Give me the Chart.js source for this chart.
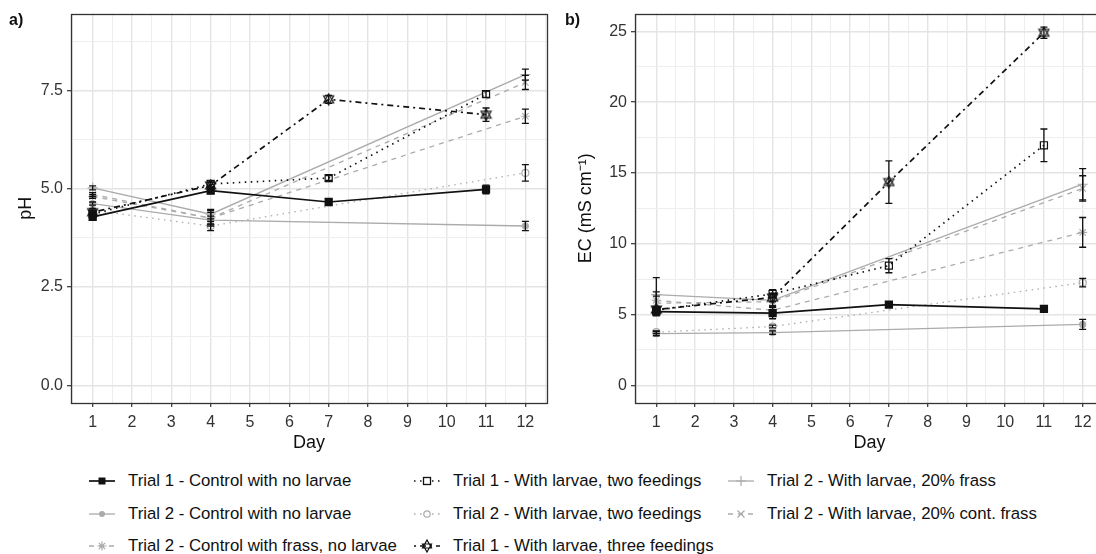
<!DOCTYPE html>
<html><head><meta charset="utf-8">
<script src="https://cdn.jsdelivr.net/npm/chart.js@4/dist/chart.umd.min.js"></script>
<style>
html,body{margin:0;padding:0;background:#fff;overflow:hidden;width:1096px;height:554px;position:relative;}
#wrapA{position:absolute;left:0;top:0;width:560px;height:460px;}
#wrapB{position:absolute;left:560px;top:0;width:560px;height:460px;}
.panel{position:absolute;font:bold 16px "Liberation Sans",Arial,sans-serif;color:#111;}
.lgtext{position:absolute;font:16.8px "Liberation Sans",Arial,sans-serif;color:#111;white-space:nowrap;line-height:18px;}
.lgkey{position:absolute;}
</style></head>
<body>
<div id="wrapA"><canvas id="cA" width="560" height="460"></canvas></div>
<div id="wrapB"><canvas id="cB" width="560" height="460"></canvas></div>
<div class="panel" style="left:9px;top:11px;">a)</div>
<div class="panel" style="left:565px;top:11px;">b)</div>
<div id="legend"></div>
<script>
// ---------- DATA ----------
const days1 = [1, 4, 7, 11];
const days2 = [1, 4, 12];
const seriesNames = [
  'Trial 1 - Control with no larvae',
  'Trial 2 - Control with no larvae',
  'Trial 2 - Control with frass, no larvae',
  'Trial 1 - With larvae, two feedings',
  'Trial 2 - With larvae, two feedings',
  'Trial 1 - With larvae, three feedings',
  'Trial 2 - With larvae, 20% frass',
  'Trial 2 - With larvae, 20% cont. frass'
];
const dayTicks = [1,2,3,4,5,6,7,8,9,10,11,12];
const phTicks = [0, 2.5, 5, 7.5];
const ecTicks = [0, 5, 10, 15, 20, 25];

// pH
const phT1Control      = [4.28, 4.95, 4.66, 4.98];
const phT1ControlErr   = [0.05, 0.05, 0.05, 0.11];
const phT2Control      = [4.62, 4.20, 4.05];
const phT2ControlErr   = [0.04, 0.10, 0.12];
const phT2Frass        = [4.80, 4.25, 6.84];
const phT2FrassErr     = [0.05, 0.15, 0.18];
const phT1Two          = [4.35, 5.12, 5.27, 7.40];
const phT1TwoErr       = [0.05, 0.08, 0.06, 0.08];
const phT2Two          = [4.45, 4.05, 5.40];
const phT2TwoErr       = [0.04, 0.12, 0.21];
const phT1Three        = [4.40, 5.08, 7.27, 6.88];
const phT1ThreeErr     = [0.05, 0.08, 0.10, 0.17];
const phT2Frass20      = [5.02, 4.35, 7.90];
const phT2Frass20Err   = [0.05, 0.12, 0.14];
const phT2Cont20       = [4.85, 4.25, 7.70];
const phT2Cont20Err    = [0.05, 0.20, 0.18];

// EC
const ecT1Control      = [5.20, 5.10, 5.70, 5.40];
const ecT1ControlErr   = [0.30, 0.40, 0.10, 0.20];
const ecT2Control      = [3.65, 3.72, 4.30];
const ecT2ControlErr   = [0.15, 0.12, 0.35];
const ecT2Frass        = [6.00, 5.30, 10.80];
const ecT2FrassErr     = [0.60, 0.30, 1.05];
const ecT1Two          = [5.30, 6.45, 8.45, 16.95];
const ecT1TwoErr       = [0.20, 0.30, 0.50, 1.15];
const ecT2Two          = [3.75, 4.15, 7.25];
const ecT2TwoErr       = [0.10, 0.10, 0.30];
const ecT1Three        = [5.35, 6.20, 14.35, 24.90];
const ecT1ThreeErr     = [0.20, 0.30, 1.50, 0.40];
const ecT2Frass20      = [6.40, 6.00, 14.20];
const ecT2Frass20Err   = [1.20, 0.40, 1.10];
const ecT2Cont20       = [5.80, 5.90, 13.90];
const ecT2Cont20Err    = [0.50, 0.40, 0.90];

// ---------- STYLES ----------
const GRAY = '#ABABAB', BLACK = '#111111';
function hexCanvas(){
  const c = document.createElement('canvas'); c.width = 13; c.height = 13;
  const g = c.getContext('2d'); g.strokeStyle = BLACK; g.lineWidth = 1.2;
  g.beginPath(); g.moveTo(6.5,1); g.lineTo(11.5,10); g.lineTo(1.5,10); g.closePath(); g.stroke();
  g.beginPath(); g.moveTo(6.5,12); g.lineTo(11.5,3); g.lineTo(1.5,3); g.closePath(); g.stroke();
  return c;
}
const HEX = hexCanvas();
const styles = [
  {color:BLACK, dash:[], width:1.7, point:'rect', r:5, fill:BLACK, pb:BLACK, order:0, key:'sqf'},
  {color:GRAY, dash:[], width:1.3, point:'circle', r:3, fill:GRAY, pb:GRAY, order:1, key:'cif'},
  {color:GRAY, dash:[5,5], width:1.3, point:'star', r:4.5, fill:'rgba(0,0,0,0)', pb:GRAY, order:1, key:'ast'},
  {color:BLACK, dash:[1.5,4.5], width:1.7, point:'rect', r:5, fill:'rgba(0,0,0,0)', pb:BLACK, order:0, key:'sqo'},
  {color:GRAY, dash:[1.5,4.5], width:1.3, point:'circle', r:3.5, fill:'rgba(0,0,0,0)', pb:GRAY, order:1, key:'cio'},
  {color:BLACK, dash:[2,4,6,4], width:1.7, point:HEX, r:6, fill:'rgba(0,0,0,0)', pb:BLACK, order:0, key:'hex'},
  {color:GRAY, dash:[], width:1.3, point:'cross', r:5, fill:'rgba(0,0,0,0)', pb:GRAY, order:1, key:'plus'},
  {color:GRAY, dash:[5,5], width:1.3, point:'crossRot', r:4.5, fill:'rgba(0,0,0,0)', pb:GRAY, order:1, key:'x'}
];

function ds(i, days, vals, errs){
  const s = styles[i];
  return {
    label: seriesNames[i],
    data: days.map((d,k)=>({x:d, y:vals[k]})),
    errors: errs,
    borderColor: s.color, borderWidth: s.width, borderDash: s.dash,
    pointStyle: s.point, pointRadius: s.r, pointBackgroundColor: s.fill,
    pointBorderColor: s.pb, pointBorderWidth: 1.2, tension: 0, fill: false,
    order: s.order
  };
}

const phData = [
  ds(0, days1, phT1Control, phT1ControlErr),
  ds(1, days2, phT2Control, phT2ControlErr),
  ds(2, days2, phT2Frass, phT2FrassErr),
  ds(3, days1, phT1Two, phT1TwoErr),
  ds(4, days2, phT2Two, phT2TwoErr),
  ds(5, days1, phT1Three, phT1ThreeErr),
  ds(6, days2, phT2Frass20, phT2Frass20Err),
  ds(7, days2, phT2Cont20, phT2Cont20Err)
];
const ecData = [
  ds(0, days1, ecT1Control, ecT1ControlErr),
  ds(1, days2, ecT2Control, ecT2ControlErr),
  ds(2, days2, ecT2Frass, ecT2FrassErr),
  ds(3, days1, ecT1Two, ecT1TwoErr),
  ds(4, days2, ecT2Two, ecT2TwoErr),
  ds(5, days1, ecT1Three, ecT1ThreeErr),
  ds(6, days2, ecT2Frass20, ecT2Frass20Err),
  ds(7, days2, ecT2Cont20, ecT2Cont20Err)
];

// ---------- PLUGINS ----------
const errPlugin = {
  id:'errbars',
  afterDatasetsDraw(chart){
    const {ctx, scales:{x, y}} = chart;
    ctx.save();
    ctx.strokeStyle = '#111'; ctx.lineWidth = 1.3; ctx.setLineDash([]);
    chart.data.datasets.forEach(d => {
      d.data.forEach((p,i) => {
        const e = d.errors[i];
        const px = x.getPixelForValue(p.x);
        const y1 = y.getPixelForValue(p.y - e), y2 = y.getPixelForValue(p.y + e);
        ctx.beginPath();
        ctx.moveTo(px, y1); ctx.lineTo(px, y2);
        ctx.moveTo(px-3.5, y1); ctx.lineTo(px+3.5, y1);
        ctx.moveTo(px-3.5, y2); ctx.lineTo(px+3.5, y2);
        ctx.stroke();
      });
    });
    ctx.restore();
  },
  afterDraw(chart){
    const a = chart.chartArea, ctx = chart.ctx;
    ctx.save(); ctx.strokeStyle = '#333'; ctx.lineWidth = 1.3;
    ctx.strokeRect(Math.round(a.left)+0.5, Math.round(a.top)+0.5, Math.round(a.right-a.left), Math.round(a.bottom-a.top));
    ctx.restore();
  }
};

Chart.defaults.font.family = '"Liberation Sans", Arial, sans-serif';

function halfSteps(lo, hi, step){ const out=[]; for(let v=lo; v<=hi+1e-9; v+=step) out.push(+v.toFixed(4)); return out; }
function isMajor(v, list){ return list.some(t => Math.abs(t - v) < 1e-6); }

function makeOptions(cfg){
  const xAll = halfSteps(0.5, 12.5, 0.5);
  const yAll = halfSteps(0, cfg.yMaxGrid, cfg.yStep/2);
  return {
    responsive:false, animation:false, devicePixelRatio:1,
    layout:{padding:{left:0, top:12, right:cfg.padRight, bottom:0}},
    plugins:{legend:{display:false}, tooltip:{enabled:false}},
    scales:{
      x:{
        type:'linear', min:0.45, max:12.55,
        afterBuildTicks: s => { s.ticks = xAll.map(v => ({value:v})); },
        afterFit: s => { s.height = 57; },
        ticks:{autoSkip:false, maxRotation:0, minRotation:0, padding:6, color:'#333', font:{size:16},
               callback: v => isMajor(v, dayTicks) ? String(v) : ''},
        grid:{
          color: c => isMajor(c.tick.value, dayTicks) ? '#E4E4E4' : '#EEEEEE',
          lineWidth: c => isMajor(c.tick.value, dayTicks) ? 1.4 : 1,
          tickLength:4, tickWidth:1.2,
          tickColor: c => isMajor(c.tick.value, dayTicks) ? '#333' : 'rgba(0,0,0,0)'
        },
        border:{display:false},
        title:{display:true, text:'Day', font:{size:18}, color:'#111', padding:{top:0, bottom:6}}
      },
      y:{
        type:'linear', min:cfg.yMin, max:cfg.yMax,
        afterBuildTicks: s => { s.ticks = yAll.map(v => ({value:v})); },
        afterFit: s => { s.width = cfg.yWidth; },
        ticks:{autoSkip:false, padding:4, color:'#333', font:{size:16},
               callback: v => isMajor(v, cfg.majors) ? cfg.fmt(v) : ''},
        grid:{
          color: c => isMajor(c.tick.value, cfg.majors) ? '#E4E4E4' : '#EEEEEE',
          lineWidth: c => isMajor(c.tick.value, cfg.majors) ? 1.4 : 1,
          tickLength:4, tickWidth:1.2,
          tickColor: c => isMajor(c.tick.value, cfg.majors) ? '#333' : 'rgba(0,0,0,0)'
        },
        border:{display:false},
        title:{display:true, text:cfg.title, font:{size:18}, color:'#111', padding:{top:cfg.titlePad, bottom:0}}
      }
    }
  };
}

new Chart(document.getElementById('cA'), {
  type:'line', data:{datasets:phData}, plugins:[errPlugin],
  options: makeOptions({padRight:13, yMin:-0.45, yMax:9.45, yMaxGrid:8.75, yStep:2.5, majors:phTicks,
                        fmt:v=>v.toFixed(1), yWidth:71, title:'pH', titlePad:15})
});
new Chart(document.getElementById('cB'), {
  type:'line', data:{datasets:ecData}, plugins:[errPlugin],
  options: makeOptions({padRight:16, yMin:-1.25, yMax:26.25, yMaxGrid:25, yStep:5, majors:ecTicks,
                        fmt:v=>String(v), yWidth:75, title:'EC (mS cm\u207B\u00B9)', titlePad:15})
});

// ---------- LEGEND ----------
function keySvg(s){
  const dash = s.dash.length ? `stroke-dasharray="${s.dash.join(',')}"` : '';
  let m = '';
  const c = s.pb;
  switch(s.key){
    case 'sqf': m = `<rect x="9.5" y="4.5" width="7" height="7" fill="${c}"/>`; break;
    case 'cif': m = `<circle cx="13" cy="8" r="3" fill="${c}"/>`; break;
    case 'ast': m = `<path d="M13 3.5V12.5M8.5 8H17.5M9.8 4.8L16.2 11.2M16.2 4.8L9.8 11.2" stroke="${c}" stroke-width="1.2"/>`; break;
    case 'sqo': m = `<rect x="9.5" y="4.5" width="7" height="7" fill="#fff" stroke="${c}" stroke-width="1.3"/>`; break;
    case 'cio': m = `<circle cx="13" cy="8" r="3.2" fill="#fff" stroke="${c}" stroke-width="1.2"/>`; break;
    case 'hex': m = `<path d="M13 2L17.5 10H8.5ZM13 14L17.5 6H8.5Z" fill="#fff" stroke="${c}" stroke-width="1.2"/>`; break;
    case 'plus': m = `<path d="M13 3V13M8 8H18" stroke="${c}" stroke-width="1.2"/>`; break;
    case 'x': m = `<path d="M9.5 4.5L16.5 11.5M16.5 4.5L9.5 11.5" stroke="${c}" stroke-width="1.2"/>`; break;
  }
  return `<svg width="26" height="16" viewBox="0 0 26 16"><line x1="0" y1="8" x2="26" y2="8" stroke="${s.color}" stroke-width="${s.width}" ${dash}/>${m}</svg>`;
}
const legendTextX = [128, 453, 767];
const legendRowY = [481, 513.5, 546];
const lg = document.getElementById('legend');
seriesNames.forEach((name, i) => {
  const col = Math.floor(i / 3), row = i % 3;
  const k = document.createElement('div');
  k.className = 'lgkey';
  k.style.left = (legendTextX[col] - 39) + 'px';
  k.style.top = (legendRowY[row] - 8) + 'px';
  k.innerHTML = keySvg(styles[i]);
  lg.appendChild(k);
  const t = document.createElement('div');
  t.className = 'lgtext';
  t.style.left = legendTextX[col] + 'px';
  t.style.top = (legendRowY[row] - 9) + 'px';
  t.textContent = name;
  lg.appendChild(t);
});
</script>
</body></html>
